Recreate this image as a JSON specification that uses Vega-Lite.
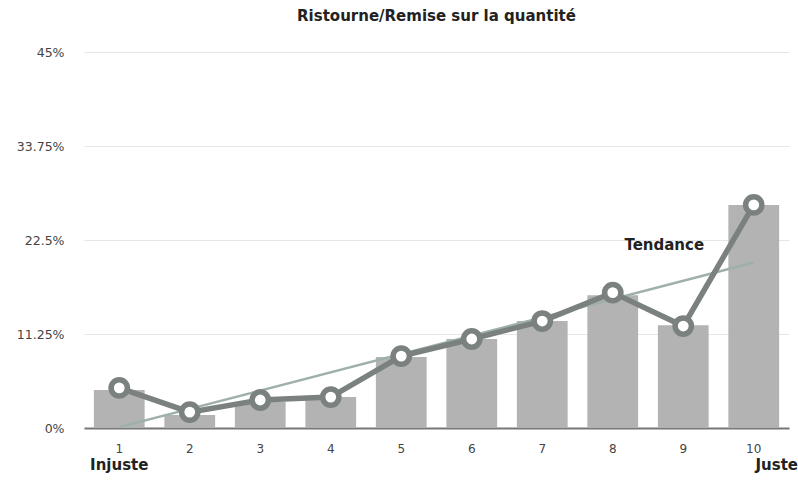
{
  "$schema": "https://vega.github.io/schema/vega-lite/v6.json",
  "autosize": {"type": "none"},
  "width": 705,
  "height": 376,
  "padding": {"left": 84, "top": 52, "right": 9, "bottom": 55},
  "background": "white",
  "title": {"text": "Ristourne/Remise sur la quantité", "font": "DejaVu Sans", "fontSize": 15, "fontWeight": "bold", "color": "#222222", "anchor": "middle", "offset": 22},
  "config": {"view": {"stroke": null}, "font": "DejaVu Sans"},
  "datasets": {
    "main": [
      {"k": "1", "bar": 4.55, "pt": 4.8},
      {"k": "2", "bar": 1.56, "pt": 1.9},
      {"k": "3", "bar": 3.1, "pt": 3.35},
      {"k": "4", "bar": 3.7, "pt": 3.7},
      {"k": "5", "bar": 8.5, "pt": 8.6},
      {"k": "6", "bar": 10.65, "pt": 10.65},
      {"k": "7", "bar": 12.8, "pt": 12.8},
      {"k": "8", "bar": 15.9, "pt": 16.2},
      {"k": "9", "bar": 12.3, "pt": 12.2},
      {"k": "10", "bar": 26.7, "pt": 26.7}
    ],
    "trend": [
      {"k": "1", "t": 0.1},
      {"k": "10", "t": 19.8}
    ]
  },
  "layer": [
    {
      "data": {"name": "main"},
      "mark": {"type": "bar", "color": "#b3b3b3"},
      "encoding": {
        "x": {"field": "k", "type": "ordinal", "sort": null,
          "scale": {"paddingInner": 0.28, "paddingOuter": 0.14},
          "axis": {"title": null, "labelAngle": 0, "ticks": false, "domainColor": "#777777", "domainWidth": 2, "labelColor": "#444444", "labelFontSize": 12, "labelPadding": 15, "grid": false}},
        "y": {"field": "bar", "type": "quantitative",
          "scale": {"domain": [0, 45], "nice": false},
          "axis": {"title": null, "values": [0, 11.25, 22.5, 33.75, 45], "labelExpr": "datum.value + '%'", "ticks": false, "domain": false, "gridColor": "#e6e6e6", "labelColor": "#444444", "labelFontSize": 12.5, "labelPadding": 20}}
      }
    },
    {
      "data": {"name": "trend"},
      "mark": {"type": "line", "color": "#9fb0a9", "strokeWidth": 2.5},
      "encoding": {
        "x": {"field": "k", "type": "ordinal", "sort": null},
        "y": {"field": "t", "type": "quantitative"}
      }
    },
    {
      "data": {"name": "main"},
      "mark": {"type": "line", "color": "#7a817e", "strokeWidth": 5.5},
      "encoding": {
        "x": {"field": "k", "type": "ordinal", "sort": null},
        "y": {"field": "pt", "type": "quantitative"}
      }
    },
    {
      "data": {"name": "main"},
      "mark": {"type": "point", "shape": "circle", "filled": false, "fill": "white", "fillOpacity": 1, "stroke": "#7a817e", "strokeWidth": 5.5, "size": 265, "opacity": 1},
      "encoding": {
        "x": {"field": "k", "type": "ordinal", "sort": null},
        "y": {"field": "pt", "type": "quantitative"}
      }
    },
    {
      "data": {"values": [{"k": "1", "y": -4.4, "txt": "Injuste"}]},
      "mark": {"type": "text", "fontWeight": "bold", "fontSize": 15, "color": "#222222", "baseline": "middle", "align": "center", "dx": 0},
      "encoding": {
        "x": {"field": "k", "type": "ordinal", "sort": null},
        "y": {"field": "y", "type": "quantitative"},
        "text": {"field": "txt"}
      }
    },
    {
      "data": {"values": [{"k": "10", "y": -4.4, "txt": "Juste"}]},
      "mark": {"type": "text", "fontWeight": "bold", "fontSize": 15, "color": "#222222", "baseline": "middle", "align": "center", "dx": 23},
      "encoding": {
        "x": {"field": "k", "type": "ordinal", "sort": null},
        "y": {"field": "y", "type": "quantitative"},
        "text": {"field": "txt"}
      }
    },
    {
      "data": {"values": [{"k": "9", "y": 21.9, "txt": "Tendance"}]},
      "mark": {"type": "text", "fontWeight": "bold", "fontSize": 15, "color": "#222222", "baseline": "middle", "align": "center", "dx": -19},
      "encoding": {
        "x": {"field": "k", "type": "ordinal", "sort": null},
        "y": {"field": "y", "type": "quantitative"},
        "text": {"field": "txt"}
      }
    }
  ]
}
